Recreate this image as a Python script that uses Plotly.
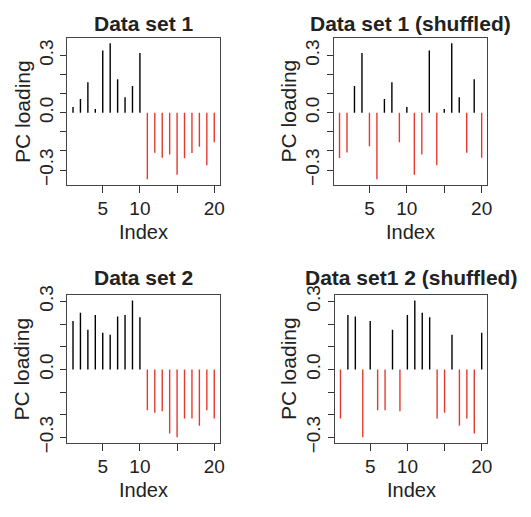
import plotly.graph_objects as go

W, H = 531, 517

index = list(range(1, 21))

ds1 = [0.030, 0.072, 0.160, 0.020, 0.326, 0.364, 0.175, 0.081, 0.140, 0.313,
       -0.348, -0.209, -0.236, -0.219, -0.325, -0.239, -0.211, -0.178, -0.275, -0.155]
ds1_shuffled = [-0.237, -0.208, 0.140, 0.313, -0.176, -0.348, 0.072, 0.160, -0.155, 0.030,
                -0.325, -0.219, 0.326, -0.275, 0.020, 0.364, 0.081, -0.209, 0.175, -0.236]
ds2 = [0.213, 0.250, 0.175, 0.240, 0.161, 0.153, 0.233, 0.240, 0.304, 0.230,
       -0.180, -0.191, -0.185, -0.283, -0.299, -0.216, -0.216, -0.248, -0.180, -0.216]
ds2_shuffled = [-0.216, 0.240, 0.233, -0.299, 0.213, -0.180, -0.180, 0.175, -0.185, 0.240,
                0.304, 0.250, 0.230, -0.216, -0.191, 0.153, -0.248, -0.216, -0.283, 0.161]

titles = ["Data set 1", "Data set 1 (shuffled)", "Data set 2", "Data set1 2 (shuffled)"]
series = [ds1, ds1_shuffled, ds2, ds2_shuffled]

x_ticks = [5, 10, 15, 20]
x_ticktext = ["5", "10", "", "20"]
y_ticks = [-0.3, -0.2, -0.1, 0.0, 0.1, 0.2, 0.3]
y_ticktext = ["\u22120.3", "", "", "0.0", "", "", "0.3"]

RED = "#e5392f"
FONT = "Liberation Sans, Arial, Helvetica, sans-serif"

# panel boxes in pixels: (left, right, top, bottom)
boxes = [(68, 222, 29, 182), (337, 492, 29, 182), (68, 222, 297, 451), (338, 492, 297, 451)]

fig = go.Figure()
layout = {}
annotations = []


def rng(vals, ext=0.04):
    lo, hi = min(vals), max(vals)
    d = (hi - lo) * ext
    return [lo - d, hi + d]


for i, (vals, title, box) in enumerate(zip(series, titles, boxes)):
    n = i + 1
    xa = "x" if n == 1 else f"x{n}"
    ya = "y" if n == 1 else f"y{n}"
    for positive, color in [(True, "black"), (False, RED)]:
        xs, ys = [], []
        for xi, v in zip(index, vals):
            if (v >= 0) == positive:
                xs += [xi, xi, None]
                ys += [0, v, None]
        fig.add_trace(go.Scatter(x=xs, y=ys, mode="lines",
                                 line=dict(color=color, width=1.4),
                                 xaxis=xa, yaxis=ya, showlegend=False,
                                 hoverinfo="skip"))
    l, r, t, b = box
    xd = [l / W, r / W]
    yd = [1 - b / H, 1 - t / H]
    xkey = "xaxis" if n == 1 else f"xaxis{n}"
    ykey = "yaxis" if n == 1 else f"yaxis{n}"
    layout[xkey] = dict(domain=xd, anchor=ya, range=rng(index), tickvals=x_ticks,
                        ticktext=x_ticktext, ticks="outside", ticklen=7,
                        tickcolor="#333", showline=True, mirror=True,
                        linecolor="#444", linewidth=1, showgrid=False, zeroline=False,
                        tickfont=dict(size=19, color="#222", family=FONT))
    layout[ykey] = dict(domain=yd, anchor=xa, range=rng(vals), tickvals=y_ticks,
                        ticktext=y_ticktext, ticks="outside", ticklen=6,
                        tickcolor="#333", showline=True, mirror=True,
                        linecolor="#444", linewidth=1, showgrid=False, zeroline=False,
                        tickangle=-90,
                        tickfont=dict(size=19, color="#222", family=FONT))
    cx = (l + r) / 2 / W
    annotations.append(dict(text=f"<b>{title}</b>", x=cx, y=1 if n <= 2 else 1 - 265 / H,
                            xref="paper", yref="paper", showarrow=False,
                            xanchor="center", yanchor="top",
                            font=dict(size=21, color="#222", family=FONT)))
    annotations.append(dict(text="Index", x=cx, y=1 - (b + 49) / H,
                            xref="paper", yref="paper", showarrow=False,
                            xanchor="center", yanchor="middle",
                            font=dict(size=20, color="#222", family=FONT)))
    annotations.append(dict(text="PC loading", x=(l - 46) / W, y=1 - (t + b) / 2 / H,
                            xref="paper", yref="paper", showarrow=False,
                            xanchor="center", yanchor="middle", textangle=-90,
                            font=dict(size=21, color="#222", family=FONT)))

fig.update_layout(width=W, height=H, margin=dict(l=0, r=0, t=0, b=0),
                  paper_bgcolor="white", plot_bgcolor="white",
                  annotations=annotations, **layout)

fig.write_html("out.html")
